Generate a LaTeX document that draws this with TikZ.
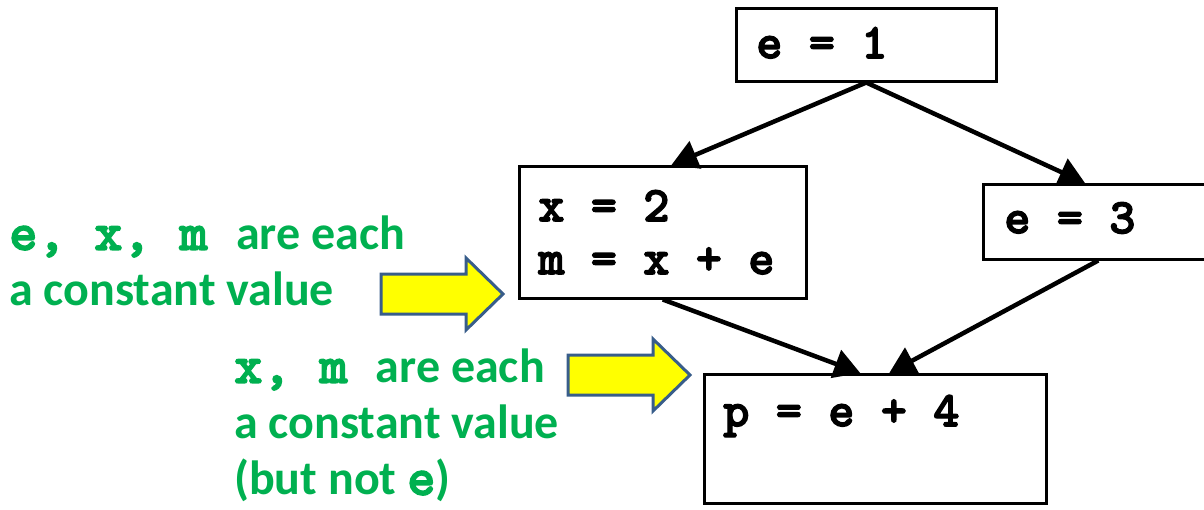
\documentclass[tikz,border=0pt]{standalone}
\usepackage{fontspec}
\setmainfont{Carlito}
\newfontfamily\cmono{lmmonolt10-bold}[Extension=.otf, FakeBold=2.5, BoldFont=lmmonolt10-bold, BoldFeatures={FakeBold=2.5}]
\usepackage{tikz}
\usepackage{xcolor}
\usetikzlibrary{arrows.meta, calc}
\definecolor{cGreen}{RGB}{0,176,80}
\definecolor{cYellow}{RGB}{255,255,0}
\definecolor{cEdge}{RGB}{56,93,138}
\newcommand{\cv}[1]{{\cmono\fontsize{54}{56}\selectfont #1}}
\tikzset{
	block/.style={rectangle, draw=black, line width=2.5pt, anchor=north west, inner ysep=0pt, align=left, font=\cmono\fontsize{50}{53}\selectfont},
	flow/.style={-{Triangle[length=26pt, width=29pt]}, line width=4.5pt},
	note/.style={anchor=north west, inner sep=0pt, align=left, text=cGreen, font=\bfseries\fontsize{48}{56}\selectfont},
	% fat hint arrow
	yarrow/.pic={
		\draw[draw=cEdge, fill=cYellow, line width=3pt, line join=miter]
			(0,-20) -- (85,-20) -- (85,-36) -- (122,0) -- (85,36) -- (85,20) -- (0,20) -- cycle;
	},
}
\begin{document}
\begin{tikzpicture}[x=1pt, y=-1pt]
	\clip (0,0) rectangle (1204,509);
	\node[block, inner xsep=20pt, text height=50pt, text depth=23pt] (bE1) at (735,7) {\makebox[220pt][l]{e = 1}};
	\node[block, inner xsep=19pt, minimum height=132pt] (bX) at (518,165) {\makebox[249pt][l]{x = 2}\\m = x + e};
	\node[block, inner xsep=21pt, text height=49pt, text depth=26pt] (bE3) at (982,183) {\makebox[188pt][l]{e = 3}};
	\node[block, inner xsep=19pt, text height=52pt, text depth=77pt] (bP) at (703,373) {\makebox[304pt][l]{p = e + 4}};

	\coordinate (inX) at ($(bX.north west)!0.53!(bX.north east)$);
	\coordinate (inE3) at ($(bE3.north west)+(103,0)$);
	\coordinate (inP1) at ($(bP.north)+(-15,0)$);
	\coordinate (inP2) at ($(bP.north)+(14,0)$);
	\draw[flow] (bE1.south) -- (inX);
	\draw[flow] (bE1.south) -- (inE3);
	\draw[flow] (bX.south) -- (inP1);
	\draw[flow] (bE3.south) -- (inP2);

	\node[note] (nAll) at (9,216) {\cv{e, x, m }are each\\a constant value};
	\node[note] (nTwo) at (234,349) {\cv{x, m }are each\\a constant value\\(but not \cv{e})};
	\pic (hA) at (381,294) {yarrow};
	\pic (hB) at (568,375) {yarrow};
\end{tikzpicture}
\end{document}
